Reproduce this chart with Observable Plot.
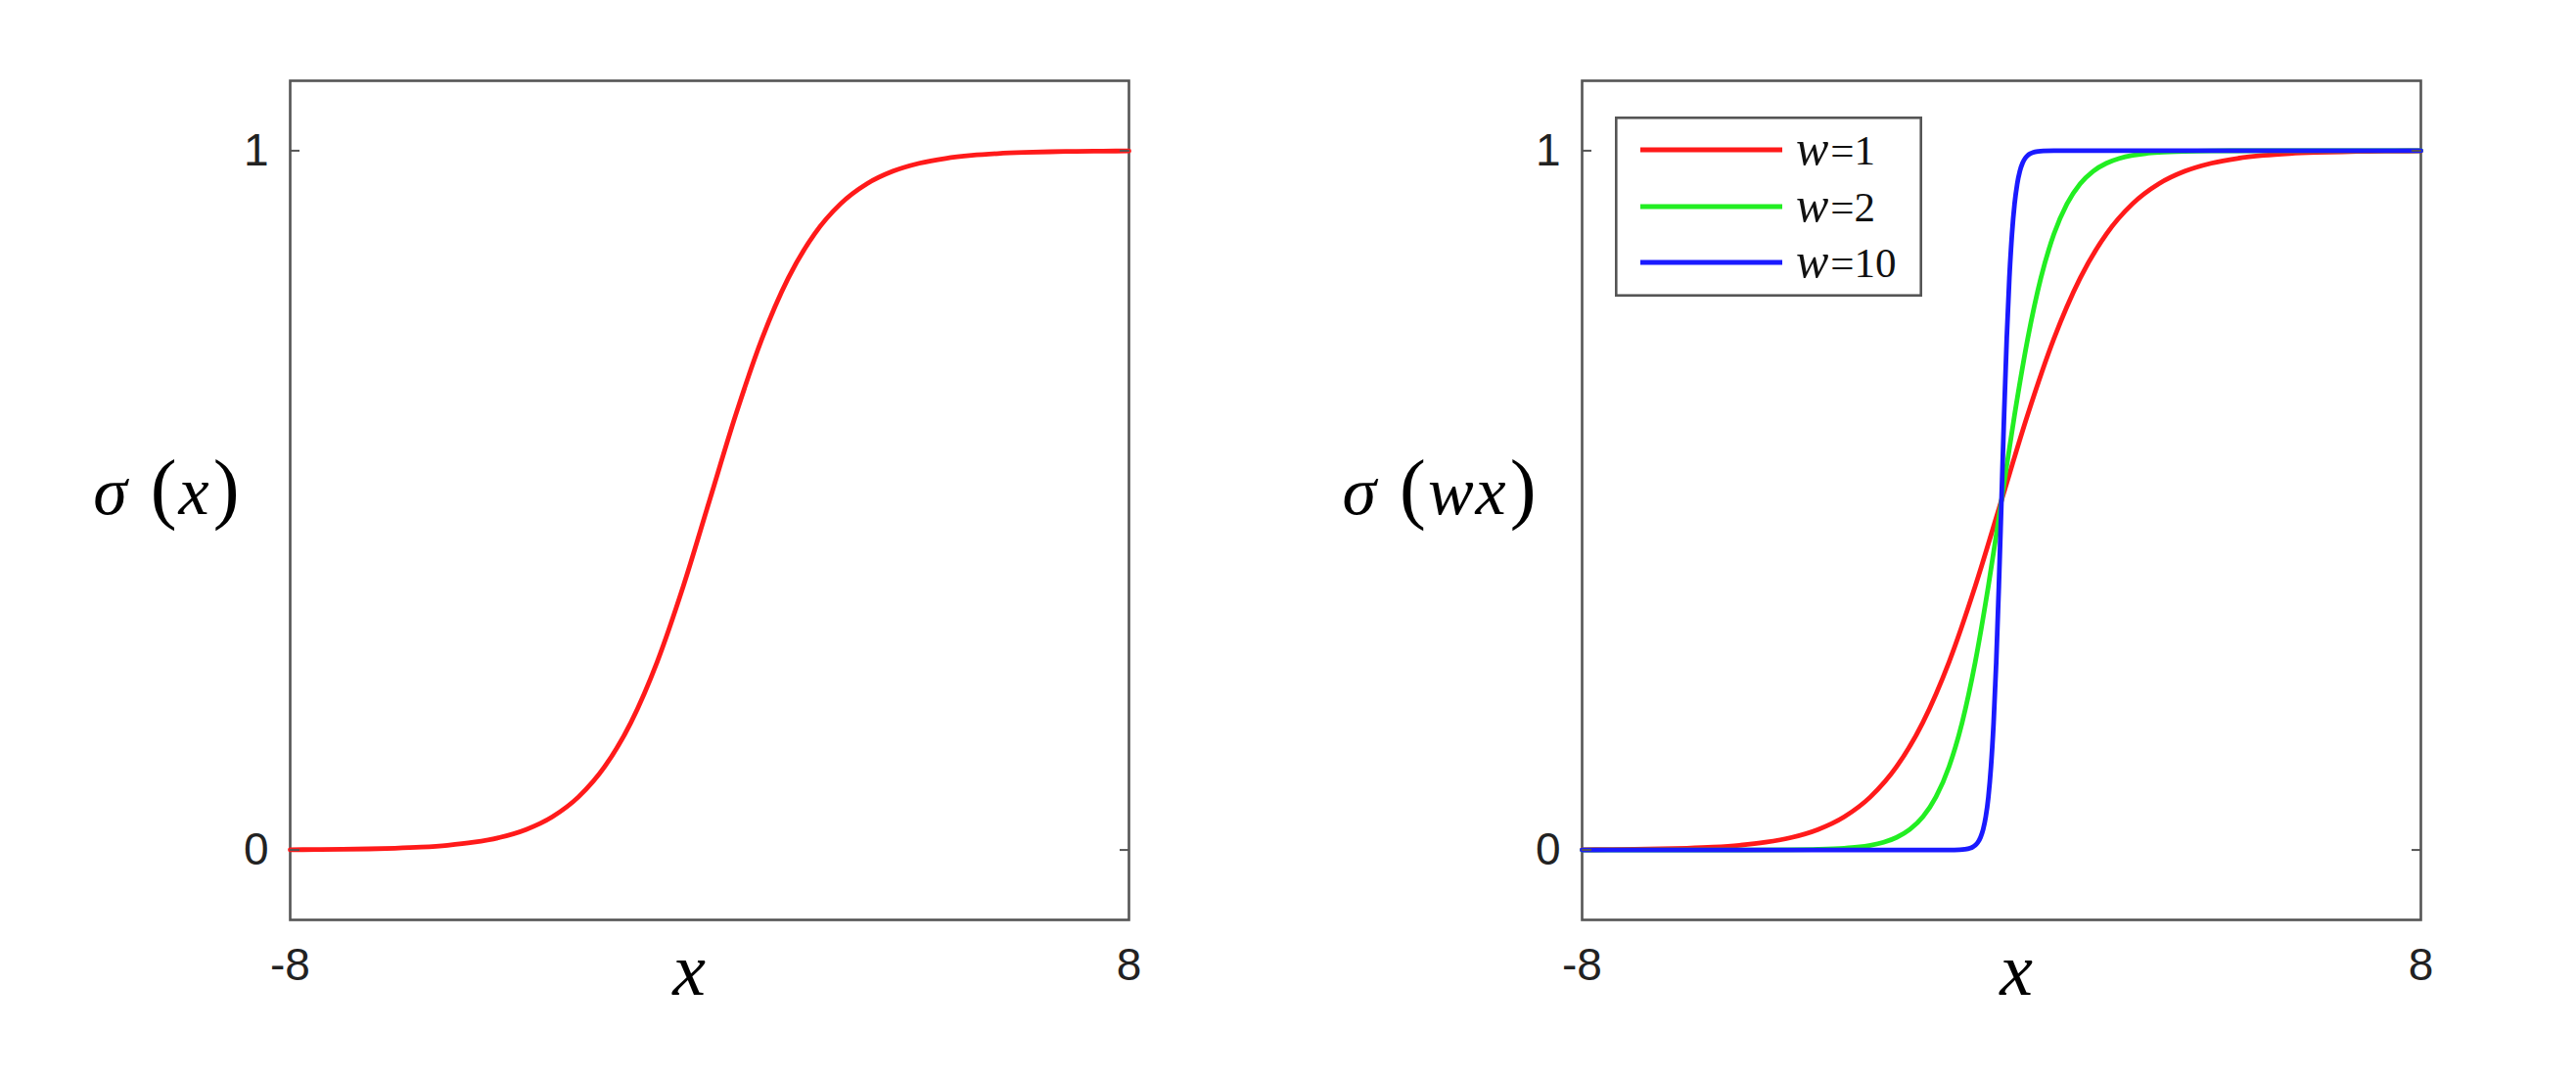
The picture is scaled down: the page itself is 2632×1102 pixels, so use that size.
<!DOCTYPE html>
<html><head><meta charset="utf-8">
<script src="https://cdn.jsdelivr.net/npm/d3@7"></script>
<script src="https://cdn.jsdelivr.net/npm/@observablehq/plot@0.6"></script>
<style>
html,body{margin:0;padding:0;background:#fff;}
#page{position:relative;width:2632px;height:1102px;overflow:hidden;background:#fff;}
.panel{position:absolute;top:0;}
</style></head><body><div id="page"></div>
<script>
// ---- tick labels / domains ----
const xTicks = [-8, 8];
const xTickLabels = ["-8", "8"];
const yTicks = [0, 1];
const yTickLabels = ["0", "1"];
const xDomain = [-8, 8];
const yDomain = [-0.1, 1.1];

// ---- series ----
// w = 1
const xs1 = [-8,-7.5,-7,-6.5,-6,-5.5,-5,-4.5,-4,-3.5,-3,-2.5,-2,-1.5,-1,-0.5,0,0.5,1,1.5,2,2.5,3,3.5,4,4.5,5,5.5,6,6.5,7,7.5,8];
const ys1 = [0.0003,0.0006,0.0009,0.0015,0.0025,0.0041,0.0067,0.0110,0.0180,0.0293,0.0474,0.0759,0.1192,0.1824,0.2689,0.3775,0.5000,0.6225,0.7311,0.8176,0.8808,0.9241,0.9526,0.9707,0.9820,0.9890,0.9933,0.9959,0.9975,0.9985,0.9991,0.9994,0.9997];
// w = 2
const xs2 = [-8,-7,-6,-5,-4,-3.5,-3,-2.75,-2.5,-2.25,-2,-1.75,-1.5,-1.25,-1,-0.75,-0.5,-0.25,0,0.25,0.5,0.75,1,1.25,1.5,1.75,2,2.25,2.5,2.75,3,3.5,4,5,6,7,8];
const ys2 = [0,0,0,0,0.0003,0.0009,0.0025,0.0041,0.0067,0.0110,0.0180,0.0293,0.0474,0.0759,0.1192,0.1824,0.2689,0.3775,0.5000,0.6225,0.7311,0.8176,0.8808,0.9241,0.9526,0.9707,0.9820,0.9890,0.9933,0.9959,0.9975,0.9991,0.9997,1,1,1,1];
// w = 10
const xs10 = [-8,-4,-2,-1,-0.8,-0.7,-0.6,-0.55,-0.5,-0.45,-0.4,-0.35,-0.3,-0.25,-0.2,-0.15,-0.1,-0.05,0,0.05,0.1,0.15,0.2,0.25,0.3,0.35,0.4,0.45,0.5,0.55,0.6,0.7,0.8,1,2,4,8];
const ys10 = [0,0,0,0,0.0003,0.0009,0.0025,0.0041,0.0067,0.0110,0.0180,0.0293,0.0474,0.0759,0.1192,0.1824,0.2689,0.3775,0.5000,0.6225,0.7311,0.8176,0.8808,0.9241,0.9526,0.9707,0.9820,0.9890,0.9933,0.9959,0.9975,0.9991,0.9997,1,1,1,1];

const seriesW = ["1", "2", "10"];
const seriesColors = ["#ff1a1a", "#22ee22", "#1a1aff"];

const leftYLabel = "σ (x)";
const rightYLabel = "σ (wx)";
const xLabel = "x";

// ---- build tables ----
const toRows = (xs, ys) => xs.map((x, i) => ({x, y: ys[i]}));
const rows1 = toRows(xs1, ys1);
const rows2 = toRows(xs2, ys2);
const rows10 = toRows(xs10, ys10);

const frameColor = "#555";
const tickFont = "Liberation Sans, Arial, sans-serif";
const mathFont = "Liberation Serif, Times New Roman, serif";

function panel({lines, ylabel, marginLeft, marginRight, ylabDx, xlabDx}) {
  const svg = Plot.plot({
    width: 1316, height: 1102,
    marginLeft, marginRight, marginTop: 82, marginBottom: 163,
    x: {domain: xDomain, label: null},
    y: {domain: yDomain, label: null},
    style: {background: "transparent", fontFamily: tickFont, overflow: "visible"},
    marks: [
      Plot.frame({stroke: frameColor, strokeWidth: 2.6}),
      ...lines.map(({rows, color}) => Plot.line(rows, {x: "x", y: "y", stroke: color, strokeWidth: 4.8, curve: "monotone-x"})),
      Plot.axisY(yTicks, {anchor: "left", tickSize: -10, tickPadding: 32, stroke: frameColor, strokeWidth: 2, fill: "#222", fontSize: 46,
        tickFormat: d => yTickLabels[yTicks.indexOf(d)], label: null}),
      Plot.axisY(yTicks, {anchor: "right", tickSize: -10, stroke: frameColor, strokeWidth: 2, tickFormat: () => "", label: null}),
      Plot.axisX(xTicks, {anchor: "bottom", tickSize: 0, tickPadding: 29, fill: "#222", fontSize: 46,
        tickFormat: d => xTickLabels[xTicks.indexOf(d)], label: null}),
      Plot.text([ylabel], {frameAnchor: "left", textAnchor: "end", dx: ylabDx, dy: -8, fontSize: 70, fontFamily: mathFont, fill: "#000"}),
      Plot.text([xLabel], {frameAnchor: "bottom", dy: 76, dx: xlabDx, fontSize: 76, fontStyle: "italic", fontFamily: mathFont, fill: "#000"})
    ]
  });
  mathify(svg, ylabel, 70);
  return svg;
}

function mathify(svg, str, size) {
  d3.select(svg).selectAll("text").filter(function () { return this.textContent === str; }).each(function () {
    const t = d3.select(this);
    t.text("");
    let gap = 0;
    [...str].forEach(ch => {
      if (ch === " ") { gap = 20; return; }
      const sp = t.append("tspan").text(ch);
      const paren = /[()]/.test(ch);
      const dx = gap + (paren ? 4 : 2);
      sp.attr("dx", dx);
      gap = 0;
      if (paren) sp.attr("font-size", size * 1.15);
      else sp.attr("font-style", "italic");
    });
  });
}

const page = d3.select("#page");

const left = panel({
  lines: [{rows: rows1, color: seriesColors[0]}],
  ylabel: leftYLabel, marginLeft: 296, marginRight: 163, ylabDx: -54, xlabDx: -21
});
page.append("div").attr("class", "panel").style("left", "0px").node().appendChild(left);

const right = panel({
  lines: [
    {rows: rows1, color: seriesColors[0]},
    {rows: rows2, color: seriesColors[1]},
    {rows: rows10, color: seriesColors[2]}
  ],
  ylabel: rightYLabel, marginLeft: 300, marginRight: 159, ylabDx: -49, xlabDx: 15
});
page.append("div").attr("class", "panel").style("left", "1316px").node().appendChild(right);

// ---- legend (inside right panel, top-left) ----
const leg = page.append("svg")
  .attr("width", 314).attr("height", 184)
  .style("position", "absolute").style("left", "1650px").style("top", "119px")
  .style("overflow", "visible");
leg.append("rect").attr("x", 1.3).attr("y", 1.3).attr("width", 311.4).attr("height", 181.4)
  .attr("fill", "#fff").attr("stroke", frameColor).attr("stroke-width", 2.6);
const rowY = [34, 92, 149];
seriesW.forEach((w, i) => {
  const g = leg.append("g").attr("transform", `translate(0,${rowY[i]})`);
  g.append("line").attr("x1", 26).attr("x2", 171).attr("y1", 0).attr("y2", 0)
    .attr("stroke", seriesColors[i]).attr("stroke-width", 4.8);
  const t = g.append("text").attr("x", 185).attr("y", 15).attr("font-family", mathFont).attr("fill", "#111");
  t.append("tspan").text("w").attr("font-style", "italic").attr("font-size", 50);
  t.append("tspan").text("=" + w).attr("font-size", 43).attr("dx", 2);
});
</script></body></html>
